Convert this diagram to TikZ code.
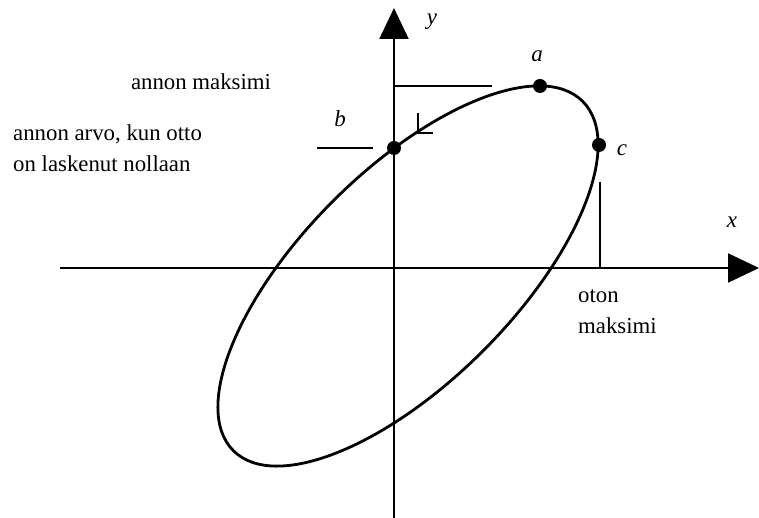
\documentclass[tikz,border=0pt]{standalone}
\usepackage{fontspec}
\setmainfont{Liberation Serif}
\usetikzlibrary{arrows.meta}
\begin{document}
\begin{tikzpicture}[x=1pt,y=1pt,
  axis/.style={line width=2.2pt,-{Triangle[length=31pt,width=29pt]}},
  curve/.style={line width=2.8pt},
  guide/.style={line width=2.2pt},
  dot/.style={circle,fill,inner sep=0pt,minimum size=14pt},
  lbl/.style={font=\fontsize{22.8}{31}\selectfont,inner sep=0pt,align=left},
  pt/.style={font=\itshape\fontsize{23}{23}\selectfont,inner sep=0pt}]
\useasboundingbox (-394,-250) rectangle (365,268);
\coordinate (xs) at (-334,0);
\coordinate (xe) at (365,0);
\coordinate (ys) at (0,-250);
\coordinate (ye) at (0,260);
\draw[axis] (xs) -- (xe);
\draw[axis] (ys) -- (ye);
\draw[curve,rotate around={45:(14,-8)}] (14,-8) ellipse [x radius=247pt,y radius=106pt];

\coordinate (amax) at (0,182);
\coordinate (bmark) at (-77,120);
\coordinate (cmax) at (206,0);
\coordinate (turn) at (24,135);
\draw[guide] (amax) -- ++(98,0);
\draw[guide] (bmark) -- ++(56,0);
\draw[guide] (cmax) -- ++(0,86);
\draw[guide] (turn) ++(0,20) -- (turn) -- ++(15,0);

\node[dot] (a) at (146,182) {};
\node[dot] (b) at (0,120) {};
\node[dot] (c) at (205,123) {};

\node[pt,anchor=base] (alab) at (143,206) {a};
\node[pt,anchor=base] (blab) at (-54,141) {b};
\node[pt,anchor=base] (clab) at (228,112) {c};
\node[pt,anchor=base] (xlab) at (338,40) {x};
\node[pt,anchor=base] (ylab) at (38,243) {y};

\node[lbl,anchor=base] (amaxlab) at (-193,178) {annon maksimi};
\node[lbl,anchor=base west] (blab2) at (-381,96) {annon arvo, kun otto\\on laskenut nollaan};
\node[lbl,anchor=base west] (cmaxlab) at (184,-66) {oton\\maksimi};
\end{tikzpicture}
\end{document}
